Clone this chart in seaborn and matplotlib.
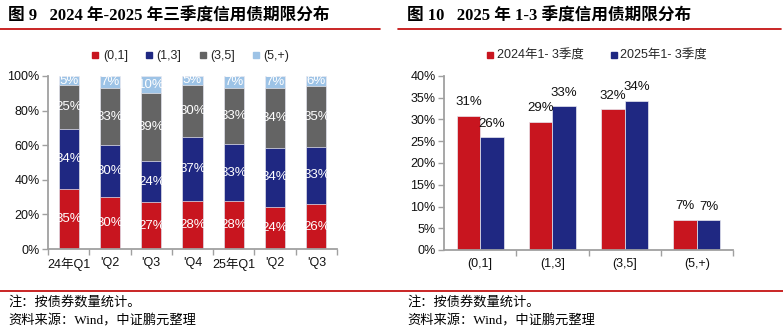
import numpy as np
import pandas as pd
import matplotlib
matplotlib.use("Agg")
import matplotlib.pyplot as plt
import seaborn as sns
from matplotlib.lines import Line2D
from matplotlib.ticker import FuncFormatter, FixedLocator

# ---------------- data ----------------
quarters = ["24年Q1", "'Q2", "'Q3", "'Q4", "25年Q1", "'Q2", "'Q3"]
terms = ["(0,1]", "(1,3]", "(3,5]", "(5,+)"]
share_01 = [34.8, 30.0, 27.0, 28.0, 27.8, 24.4, 26.0]
share_13 = [34.4, 30.0, 24.0, 37.0, 32.8, 34.0, 33.0]
share_35 = [25.4, 33.0, 39.0, 30.0, 32.6, 34.4, 35.0]
share_5p = [5.4, 7.0, 10.0, 5.0, 6.8, 7.2, 6.0]

periods = ["2024年1- 3季度", "2025年1- 3季度"]
dist_2024 = [30.9, 29.4, 32.3, 7.0]
dist_2025 = [25.9, 33.0, 34.3, 6.8]

title_left = "图 9   2024 年-2025 年三季度信用债期限分布"
title_right = "图 10   2025 年 1-3 季度信用债期限分布"
note_text = "注：按债券数量统计。"
source_text = "资料来源：Wind，中证鹏元整理"

# ---------------- style ----------------
RED = "#C8151F"
NAVY = "#1F2882"
GREY = "#646464"
LIGHT = "#9DC3E6"
SPINE = "#A0A0A0"
colors = [RED, NAVY, GREY, LIGHT]

sns.set_theme(style="white")
plt.rcParams["font.family"] = ["Liberation Sans", "Noto Sans CJK SC", "DejaVu Sans"]

W, H = 783, 333
fig = plt.figure(figsize=(W / 100, H / 100), dpi=100)
fig.patch.set_facecolor("white")


def fx(px):
    return px / W


def fy(py):
    return 1 - py / H


def axes_px(x0, x1, ytop, ybot):
    return fig.add_axes([fx(x0), fy(ybot), fx(x1) - fx(x0), (ybot - ytop) / H])


def style_axes(ax):
    for s in ["top", "right"]:
        ax.spines[s].set_visible(False)
    for s in ["left", "bottom"]:
        ax.spines[s].set_color(SPINE)
        ax.spines[s].set_linewidth(1.3)
    ax.set_facecolor("white")
    ax.tick_params(axis="y", which="major", direction="out", length=4, width=1,
                   color=SPINE, labelsize=9, labelcolor="#111111", pad=2, left=True)
    ax.tick_params(axis="x", which="major", length=0, labelsize=9,
                   labelcolor="#111111", pad=6)
    ax.tick_params(axis="x", which="minor", direction="out", length=4, width=1,
                   color=SPINE, bottom=True)
    ax.set_xlabel("")
    ax.set_ylabel("")
    ax.grid(False)


# ---------------- left: stacked bars ----------------
axL = axes_px(48, 337, 76, 249)
dfL = pd.DataFrame({"pos": np.arange(len(quarters)),
                    terms[0]: share_01, terms[1]: share_13,
                    terms[2]: share_35, terms[3]: share_5p})
cum = dfL[terms].cumsum(axis=1)
for term, col in reversed(list(zip(terms, colors))):
    sns.barplot(x=dfL["pos"], y=cum[term], color=col, width=0.49, saturation=1,
                edgecolor="#E8E8F0", linewidth=0.5, ax=axL)
for i in range(len(quarters)):
    for term in terms:
        v = dfL.loc[i, term]
        c = cum.loc[i, term] - v / 2
        axL.text(i, c, f"{v:.0f}%", ha="center", va="center", color="white",
                 fontsize=9.5)
axL.set_ylim(0, 100)
axL.set_xlim(-0.5, len(quarters) - 0.5)
axL.yaxis.set_major_locator(FixedLocator([0, 20, 40, 60, 80, 100]))
axL.yaxis.set_major_formatter(FuncFormatter(lambda v, p: f"{v:.0f}%"))
axL.set_xticks(np.arange(len(quarters)))
axL.set_xticklabels(quarters)
axL.xaxis.set_minor_locator(FixedLocator(np.arange(-0.5, len(quarters), 1.0)))
style_axes(axL)

handlesL = [Line2D([], [], marker="s", linestyle="", color=c, markersize=5) for c in colors]
fig.legend(handlesL, terms, loc="center", bbox_to_anchor=(fx(190), fy(56)), ncol=4,
           frameon=False, fontsize=9, handlelength=0.8, handletextpad=0.2,
           columnspacing=1.3, borderaxespad=0)

# ---------------- right: grouped bars ----------------
axR = axes_px(444, 733, 76, 250)
dfR = pd.DataFrame({"term": terms * 2,
                    "period": [periods[0]] * len(terms) + [periods[1]] * len(terms),
                    "value": dist_2024 + dist_2025})
sns.barplot(data=dfR, x="term", y="value", hue="period", order=terms,
            hue_order=periods, palette=[RED, NAVY], width=0.65, saturation=1,
            edgecolor="#E8E8F0", linewidth=0.5, legend=False, ax=axR)
for cont, vals in zip(axR.containers, [dist_2024, dist_2025]):
    axR.bar_label(cont, labels=[f"{v:.0f}%" for v in vals], padding=5.5,
                  fontsize=9.5, color="#111111")
axR.set_ylim(0, 40)
axR.set_xlim(-0.5, len(terms) - 0.5)
axR.yaxis.set_major_locator(FixedLocator(np.arange(0, 41, 5)))
axR.yaxis.set_major_formatter(FuncFormatter(lambda v, p: f"{v:.0f}%"))
axR.xaxis.set_minor_locator(FixedLocator(np.arange(0.5, len(terms), 1.0)))
style_axes(axR)

handlesR = [Line2D([], [], marker="s", linestyle="", color=c, markersize=5) for c in [RED, NAVY]]
fig.legend(handlesR, periods, loc="center", bbox_to_anchor=(fx(596), fy(56)), ncol=2,
           frameon=False, fontsize=9, handlelength=0.8, handletextpad=0.1,
           columnspacing=2.0, borderaxespad=0)

# ---------------- titles, rules, notes ----------------
tfam = ["Liberation Serif", "Noto Sans CJK SC"]
fig.text(fx(8), fy(16), title_left, ha="left", va="center", fontsize=12,
         fontweight="bold", family=tfam, color="black")
fig.text(fx(407), fy(16), title_right, ha="left", va="center", fontsize=12,
         fontweight="bold", family=tfam, color="black")
fig.add_artist(Line2D([fx(0), fx(380)], [fy(29), fy(29)], color="#C00000", lw=1.2))
fig.add_artist(Line2D([fx(398), fx(781)], [fy(29), fy(29)], color="#C00000", lw=1.2))
fig.add_artist(Line2D([fx(0), fx(783)], [fy(291), fy(291)], color="#C00000", lw=1.2))

for x0 in (8, 407):
    fig.text(fx(x0), fy(302), note_text, ha="left", va="center", fontsize=9.5,
             family=tfam, color="black")
    fig.text(fx(x0), fy(321), source_text, ha="left", va="center", fontsize=9.5,
             family=tfam, color="black")

fig.savefig("out.png", dpi=100, facecolor="white")
